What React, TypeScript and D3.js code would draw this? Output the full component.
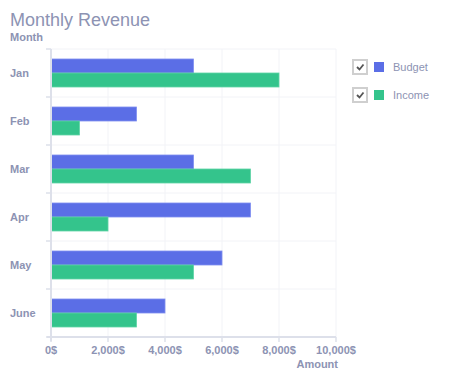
import React from "react";
import * as d3 from "d3";

const months = ["Jan", "Feb", "Mar", "Apr", "May", "June"];
const budget = [5000, 3000, 5000, 7000, 6000, 4000];
const income = [8000, 1000, 7000, 2000, 5000, 3000];
const xTicks = [0, 2000, 4000, 6000, 8000, 10000];
const seriesNames = ["Budget", "Income"];
const seriesColors = ["#5b6ee6", "#34c48c"];

const W = 474, H = 380;
const M = { left: 51, right: 336, top: 49, bottom: 337 };
const TXT = "#8d93b3";
const FONT = "'Liberation Sans', Arial, sans-serif";

export default function App() {
  const x = d3.scaleLinear().domain([0, 10000]).range([M.left, M.right]);
  const y = d3.scaleBand().domain(months).range([M.top, M.bottom]);
  const inner = d3.scaleBand().domain(seriesNames).range([10, y.bandwidth() - 10]);
  const fmt = (v: number) => d3.format(",")(v) + "$";
  const series = [budget, income];
  return (
    <div style={{ position: "absolute", left: 0, top: 0 }}>
      <svg width={W} height={H} style={{ display: "block", fontFamily: FONT }}>
        <rect width={W} height={H} fill="#fff" />
        <text x={10} y={26} fontSize={18} fill={TXT}>Monthly Revenue</text>
        <text x={10} y={41} fontSize={11} fontWeight="bold" fill={TXT}>Month</text>
        {/* grid */}
        {xTicks.slice(1).map((t) => (
          <line key={"gx" + t} x1={x(t)} x2={x(t)} y1={M.top} y2={M.bottom} stroke="#f2f3f7" strokeWidth={1} />
        ))}
        {months.map((m) => (
          <line key={"gy" + m} x1={M.left} x2={M.right} y1={y(m)!} y2={y(m)!} stroke="#f2f3f7" strokeWidth={1} />
        ))}
        {/* bars */}
        {months.map((m, i) =>
          seriesNames.map((s, j) => (
            <rect key={m + s} x={x(0)} y={y(m)! + inner(s)!} width={x(series[j][i]) - x(0)}
              height={inner.bandwidth()} fill={seriesColors[j]}
              stroke={j === 0 ? "#7f8ef0" : "#5fd4a6"} strokeWidth={0.8} />
          ))
        )}
        {/* y axis */}
        <line x1={M.left} x2={M.left} y1={M.top} y2={M.bottom + 4} stroke="#dde0ea" strokeWidth={2} />
        {months.map((m) => (
          <line key={"yt" + m} x1={M.left - 5} x2={M.left} y1={y(m)!} y2={y(m)!} stroke="#dde0ea" strokeWidth={1.5} />
        ))}
        <line x1={M.left - 5} x2={M.left} y1={M.bottom} y2={M.bottom} stroke="#dde0ea" strokeWidth={1.5} />
        {months.map((m) => (
          <text key={"yl" + m} x={10} y={y(m)! + y.bandwidth() / 2 + 4} fontSize={11} fontWeight="bold" fill={TXT}>{m}</text>
        ))}
        {/* x axis */}
        <line x1={M.left - 4} x2={M.right} y1={M.bottom} y2={M.bottom} stroke="#dde0ea" strokeWidth={2} />
        {xTicks.map((t) => (
          <g key={"xt" + t}>
            <line x1={x(t)} x2={x(t)} y1={M.bottom} y2={M.bottom + 5} stroke="#dde0ea" strokeWidth={1.5} />
            <text x={x(t)} y={M.bottom + 17} fontSize={11} fontWeight="bold" fill={TXT} textAnchor="middle">{fmt(t)}</text>
          </g>
        ))}
        <text x={M.right + 2} y={368} fontSize={11} fontWeight="bold" fill={TXT} textAnchor="end">Amount</text>
        {/* legend */}
        {seriesNames.map((s, j) => {
          const cy = 67 + j * 28;
          return (
            <g key={"lg" + s}>
              <rect x={353} y={cy - 7} width={14} height={14} fill="#fff" stroke="#cfcfcf" strokeWidth={2} />
              <path d={`M${357},${cy} L${359.5},${cy + 2.5} L${363.5},${cy - 2.5}`} fill="none" stroke="#555" strokeWidth={1.8} />
              <rect x={374} y={cy - 5} width={10} height={10} fill={seriesColors[j]} />
              <text x={393} y={cy + 4} fontSize={11} fill={TXT}>{s}</text>
            </g>
          );
        })}
      </svg>
    </div>
  );
}
